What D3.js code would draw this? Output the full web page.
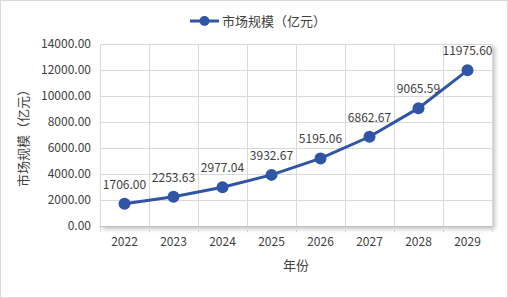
<!DOCTYPE html>
<html>
<head>
<meta charset="utf-8">
<script src="https://cdn.jsdelivr.net/npm/d3@7"></script>
<style>
  body { margin: 0; background: #fff; }
  text { font-family: "Noto Sans CJK SC", "Microsoft YaHei", sans-serif; }
</style>
</head>
<body>
<script>
var years = ["2022", "2023", "2024", "2025", "2026", "2027", "2028", "2029"];
var values = [1706.00, 2253.63, 2977.04, 3932.67, 5195.06, 6862.67, 9065.59, 11975.60];
var yTicks = [0, 2000, 4000, 6000, 8000, 10000, 12000, 14000];
var seriesName = "市场规模（亿元）";

var W = 508, H = 298,
    margin = {top: 44, right: 16, bottom: 72, left: 100},
    width = W - margin.left - margin.right,
    height = H - margin.top - margin.bottom;

var svg = d3.select("body").append("svg").attr("width", W).attr("height", H);

svg.append("rect").attr("x", 0.5).attr("y", 0.5).attr("width", W - 1).attr("height", H - 1)
  .attr("fill", "#fff").attr("stroke", "#d9d9d9");

var defs = svg.append("defs");
var f = defs.append("filter").attr("id", "sh").attr("x", "-5%").attr("y", "-5%").attr("width", "115%").attr("height", "115%");
f.append("feDropShadow").attr("dx", 3).attr("dy", 3).attr("stdDeviation", 2).attr("flood-color", "#000").attr("flood-opacity", 0.25);

var x = d3.scaleBand().domain(years).range([0, width]);
var y = d3.scaleLinear().domain([0, 14000]).range([height, 0]);

var g = svg.append("g").attr("transform", "translate(" + margin.left + "," + margin.top + ")");

g.append("rect").attr("width", width).attr("height", height).attr("fill", "#fff").attr("filter", "url(#sh)");

// horizontal gridlines
g.selectAll(".hg").data(yTicks).enter().append("line")
  .attr("x1", 0).attr("x2", width)
  .attr("y1", function(d) { return Math.round(y(d)) + 0.5; })
  .attr("y2", function(d) { return Math.round(y(d)) + 0.5; })
  .attr("stroke", "#d9d9d9");

// vertical gridlines with ticks below
var bounds = years.map(function(d) { return x(d); }).concat([width]);
g.selectAll(".vg").data(bounds).enter().append("line")
  .attr("x1", function(d) { return Math.round(d) + 0.5; })
  .attr("x2", function(d) { return Math.round(d) + 0.5; })
  .attr("y1", 0).attr("y2", height + 6)
  .attr("stroke", "#d9d9d9");

g.append("line").attr("x1", 0).attr("x2", width)
  .attr("y1", Math.round(height) + 0.5).attr("y2", Math.round(height) + 0.5)
  .attr("stroke", "#bfbfbf");

// y tick labels
g.selectAll(".yl").data(yTicks).enter().append("text")
  .attr("x", -9).attr("y", function(d) { return y(d); })
  .attr("dy", "0.35em").attr("text-anchor", "end")
  .attr("font-size", 12).attr("fill", "#404040")
  .text(function(d) { return d3.format(".2f")(d); });

// x tick labels
g.selectAll(".xl").data(years).enter().append("text")
  .attr("x", function(d) { return x(d) + x.bandwidth() / 2; })
  .attr("y", height + 20)
  .attr("text-anchor", "middle")
  .attr("font-size", 12).attr("fill", "#404040")
  .text(function(d) { return d; });

var color = "#2f55a4";
var line = d3.line()
  .x(function(d, i) { return x(years[i]) + x.bandwidth() / 2; })
  .y(function(d) { return y(d); });

g.append("path").datum(values).attr("d", line)
  .attr("fill", "none").attr("stroke", color).attr("stroke-width", 3);

g.selectAll(".pt").data(values).enter().append("circle")
  .attr("cx", function(d, i) { return x(years[i]) + x.bandwidth() / 2; })
  .attr("cy", function(d) { return y(d); })
  .attr("r", 6).attr("fill", color);

g.selectAll(".dl").data(values).enter().append("text")
  .attr("x", function(d, i) { return x(years[i]) + x.bandwidth() / 2; })
  .attr("y", function(d) { return y(d) - 15; })
  .attr("text-anchor", "middle")
  .attr("font-size", 12).attr("fill", "#404040")
  .text(function(d) { return d3.format(".2f")(d); });

// axis titles
svg.append("text")
  .attr("transform", "translate(28," + (margin.top + height / 2) + ") rotate(-90)")
  .attr("text-anchor", "middle").attr("font-size", 13).attr("fill", "#404040")
  .text(seriesName);

svg.append("text")
  .attr("x", margin.left + width / 2).attr("y", 270)
  .attr("text-anchor", "middle").attr("font-size", 13).attr("fill", "#404040")
  .text("年份");

// legend
var lg = svg.append("g").attr("transform", "translate(190,21)");
lg.append("line").attr("x1", 0).attr("x2", 29).attr("stroke", color).attr("stroke-width", 3);
lg.append("circle").attr("cx", 14.5).attr("r", 5).attr("fill", color);
lg.append("text").attr("x", 32).attr("dy", "0.35em")
  .attr("font-size", 13).attr("fill", "#404040").text(seriesName);
</script>
</body>
</html>
